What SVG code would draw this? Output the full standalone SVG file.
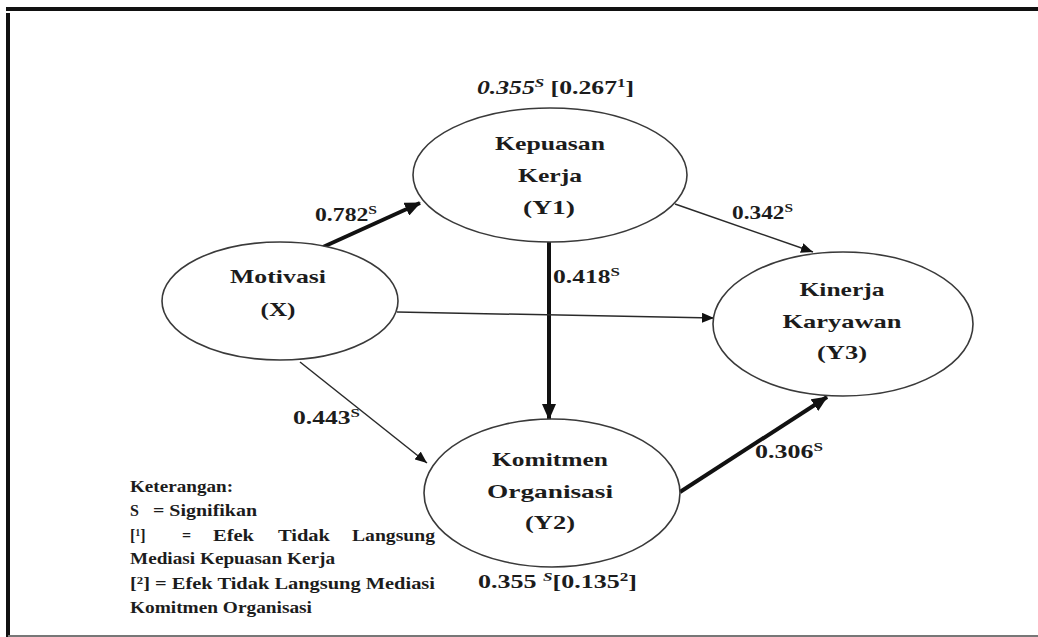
<svg xmlns="http://www.w3.org/2000/svg" width="1038" height="637" viewBox="0 0 1038 637">
<style>
.node{fill:#fff;stroke:#3a3a3a;stroke-width:1.6}
.nt{font-family:"Liberation Serif","Times New Roman",serif;font-weight:bold;font-size:19.5px;fill:#1c1c1c;text-anchor:middle}
.lab{font-family:"Liberation Serif","Times New Roman",serif;font-weight:bold;font-size:19px;fill:#1c1c1c}
.leg{font-family:"Liberation Serif","Times New Roman",serif;font-weight:bold;font-size:16px;fill:#1c1c1c}
.thin{stroke:#2a2a2a;stroke-width:1.5;fill:none}
.thick{stroke:#111;stroke-width:4;fill:none}
</style>
<defs>
<marker id="ah" markerUnits="userSpaceOnUse" markerWidth="12" markerHeight="10" refX="12" refY="5" orient="auto">
<path d="M0,0 L12,5 L0,10 z" fill="#111"/>
</marker>
<marker id="ahb" markerUnits="userSpaceOnUse" markerWidth="16" markerHeight="14" refX="15" refY="7" orient="auto">
<path d="M0,0 L16,7 L0,14 z" fill="#111"/>
</marker>
</defs>
<rect width="1038" height="637" fill="#fff"/>
<g id="frame">
<line x1="6" y1="9" x2="1038" y2="9" stroke="#111" stroke-width="4"/>
<line x1="8" y1="13" x2="8" y2="637" stroke="#111" stroke-width="4"/>
<line x1="8" y1="636" x2="1038" y2="636" stroke="#777" stroke-width="2"/>
</g>
<g id="connectors">
<line class="thick" x1="323" y1="247" x2="420" y2="203" marker-end="url(#ahb)"/>
<line class="thin" x1="675" y1="204" x2="813" y2="252" marker-end="url(#ah)"/>
<line class="thick" x1="549" y1="242" x2="549" y2="419" marker-end="url(#ahb)"/>
<line class="thin" x1="397" y1="312" x2="714" y2="318" marker-end="url(#ah)"/>
<line class="thin" x1="300" y1="362" x2="427" y2="463" marker-end="url(#ah)"/>
<line class="thick" x1="680" y1="492" x2="827" y2="397" marker-end="url(#ahb)"/>
<text class="lab" x="315" y="221" textLength="62" lengthAdjust="spacingAndGlyphs">0.782<tspan dy="-7" font-size="12.5">S</tspan></text>
<text class="lab" x="732" y="219" textLength="61" lengthAdjust="spacingAndGlyphs">0.342<tspan dy="-7" font-size="12.5">S</tspan></text>
<text class="lab" x="553" y="283" textLength="67" lengthAdjust="spacingAndGlyphs">0.418<tspan dy="-7" font-size="12.5">S</tspan></text>
<text class="lab" x="293" y="424" textLength="67" lengthAdjust="spacingAndGlyphs">0.443<tspan dy="-7" font-size="12.5">S</tspan></text>
<text class="lab" x="755" y="458" textLength="68" lengthAdjust="spacingAndGlyphs">0.306<tspan dy="-7" font-size="12.5">S</tspan></text>
</g>
<g id="kepuasan">
<ellipse class="node" cx="550" cy="175" rx="137" ry="67"/>
<text class="nt" x="550" y="150" textLength="110" lengthAdjust="spacingAndGlyphs">Kepuasan</text>
<text class="nt" x="550" y="182" textLength="64" lengthAdjust="spacingAndGlyphs">Kerja</text>
<text class="nt" x="549" y="214" textLength="52" lengthAdjust="spacingAndGlyphs">(Y1)</text>
<text class="lab" x="477" y="94" textLength="157" lengthAdjust="spacingAndGlyphs"><tspan font-style="italic">0.355</tspan><tspan dy="-7" font-size="12.5" font-style="italic">S</tspan><tspan dy="7"> [0.267</tspan><tspan dy="-7" font-size="12.5">1</tspan><tspan dy="7">]</tspan></text>
</g>
<g id="motivasi">
<ellipse class="node" cx="280" cy="301" rx="118" ry="59"/>
<text class="nt" x="278" y="283" textLength="96" lengthAdjust="spacingAndGlyphs">Motivasi</text>
<text class="nt" x="278" y="316" textLength="35" lengthAdjust="spacingAndGlyphs">(X)</text>
</g>
<g id="kinerja">
<ellipse class="node" cx="843" cy="324" rx="130" ry="72"/>
<text class="nt" x="842" y="296" textLength="85" lengthAdjust="spacingAndGlyphs">Kinerja</text>
<text class="nt" x="842" y="328" textLength="119" lengthAdjust="spacingAndGlyphs">Karyawan</text>
<text class="nt" x="842" y="359" textLength="50" lengthAdjust="spacingAndGlyphs">(Y3)</text>
</g>
<g id="komitmen">
<ellipse class="node" cx="552" cy="493" rx="128" ry="74"/>
<text class="nt" x="550" y="466" textLength="116" lengthAdjust="spacingAndGlyphs">Komitmen</text>
<text class="nt" x="550" y="498" textLength="126" lengthAdjust="spacingAndGlyphs">Organisasi</text>
<text class="nt" x="550" y="529" textLength="50" lengthAdjust="spacingAndGlyphs">(Y2)</text>
<text class="lab" x="478" y="588" textLength="159" lengthAdjust="spacingAndGlyphs">0.355 <tspan dy="-7" font-size="12.5" font-style="italic">S</tspan><tspan dy="7">[0.135</tspan><tspan dy="-7" font-size="12.5">2</tspan><tspan dy="7">]</tspan></text>
</g>
<g id="legend">
<text class="leg" x="130" y="492" textLength="103" lengthAdjust="spacingAndGlyphs">Keterangan:</text>
<text class="leg" x="130" y="516">S</text>
<text class="leg" x="153" y="516" textLength="104" lengthAdjust="spacingAndGlyphs">= Signifikan</text>
<text class="leg" x="130" y="541">[<tspan dy="-5" font-size="10">1</tspan><tspan dy="5">]</tspan></text>
<text class="leg" x="182" y="541">=</text>
<text class="leg" x="213" y="541" textLength="41" lengthAdjust="spacingAndGlyphs">Efek</text>
<text class="leg" x="278" y="541" textLength="52" lengthAdjust="spacingAndGlyphs">Tidak</text>
<text class="leg" x="352" y="541" textLength="83" lengthAdjust="spacingAndGlyphs">Langsung</text>
<text class="leg" x="130" y="564" textLength="205" lengthAdjust="spacingAndGlyphs">Mediasi Kepuasan Kerja</text>
<text class="leg" x="130" y="589" textLength="305" lengthAdjust="spacingAndGlyphs">[<tspan dy="-5" font-size="10">2</tspan><tspan dy="5">] = Efek Tidak Langsung Mediasi</tspan></text>
<text class="leg" x="130" y="613" textLength="182" lengthAdjust="spacingAndGlyphs">Komitmen Organisasi</text>
</g>
</svg>
